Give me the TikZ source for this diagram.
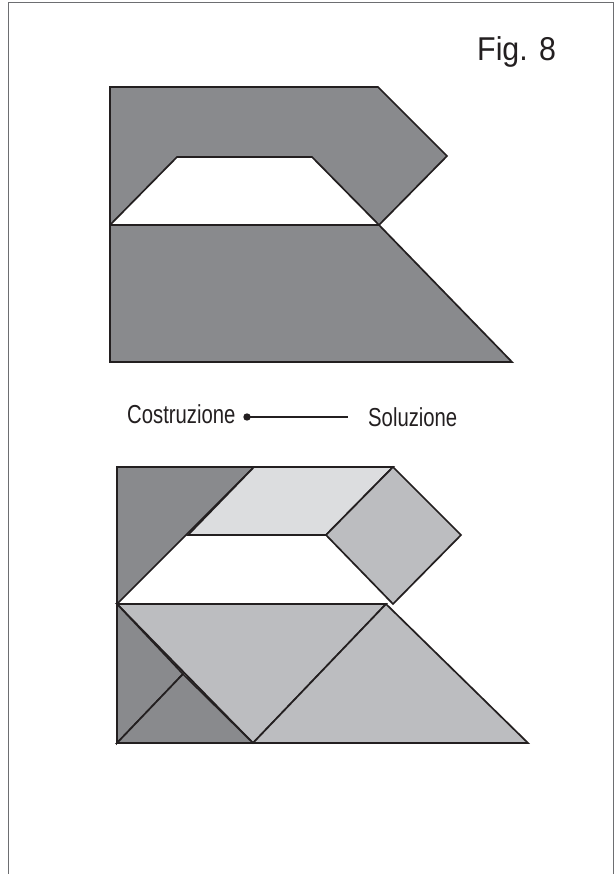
\documentclass[tikz,border=0pt]{standalone}
\usepackage{fontspec}
\setmainfont{Liberation Sans}
\newfontfamily\condfont[FakeStretch=0.92]{Liberation Sans}
\newfontfamily\narrowfont[FakeStretch=0.78]{Liberation Sans}
\definecolor{darkpiece}{HTML}{898A8D}
\definecolor{midpiece}{HTML}{BCBDC0}
\definecolor{lightpiece}{HTML}{DCDDDF}
\definecolor{edge}{HTML}{231F20}
\definecolor{framec}{HTML}{6D6E71}
\tikzset{
  piece/.style={draw=edge, line width=1.7pt, line join=miter},
  lbl/.style={inner sep=0pt, anchor=base west, text=edge},
}
\begin{document}
\begin{tikzpicture}[x=1pt, y=-1pt]
\useasboundingbox (0,0) rectangle (614,874);
% frame (open at the bottom)
\draw[framec, line width=1.5pt] (8.5,874) -- (8.5,2.5) -- (613.5,2.5) -- (613.5,874);
% title
\node[lbl] (fig) at (477,61) {\condfont\fontsize{33}{38}\selectfont Fig. 8};
% ---- upper figure (construction) ----
\coordinate (A1) at (110,87);
\coordinate (A2) at (378,87);
\coordinate (A3) at (447,156);
\coordinate (A4) at (379,225);
\coordinate (A5) at (312,157);
\coordinate (A6) at (177,157);
\coordinate (A7) at (110,225);
\coordinate (A8) at (512,362);
\coordinate (A9) at (110,362);
\filldraw[piece, fill=darkpiece] (A1) -- (A2) -- (A3) -- (A4) -- (A5) -- (A6) -- (A7) -- cycle;
\filldraw[piece, fill=darkpiece] (A7) -- (A4) -- (A8) -- (A9) -- cycle;
% ---- legend ----
\node[lbl] (costr) at (127,423) {\narrowfont\fontsize{26}{31}\selectfont Costruzione};
\node[lbl] (sol) at (368,426) {\narrowfont\fontsize{26}{31}\selectfont Soluzione};
\coordinate (dot) at (247,417);
\coordinate (lineend) at (348,417);
\draw[edge, line width=1.6pt] (dot) -- (lineend);
\fill[edge] (dot) circle (3.7pt);
% ---- lower figure (solution) ----
\coordinate (B1) at (117,467);
\coordinate (B2) at (254,467);
\coordinate (B3) at (393,467);
\coordinate (B4) at (188,535);
\coordinate (B5) at (326,535);
\coordinate (B6) at (461,535);
\coordinate (B7) at (117,604);
\coordinate (B8) at (386,604);
\coordinate (B9) at (393,604);
\coordinate (B10) at (183,674);
\coordinate (B11) at (117,743);
\coordinate (B12) at (253,743);
\coordinate (B13) at (528,743);
\filldraw[piece, fill=darkpiece] (B1) -- (B2) -- (B7) -- cycle;
\filldraw[piece, fill=lightpiece] (B2) -- (B3) -- (B5) -- (B4) -- cycle;
\filldraw[piece, fill=midpiece] (B3) -- (B6) -- (B9) -- (B5) -- cycle;
\filldraw[piece, fill=midpiece] (B7) -- (B8) -- (B12) -- cycle;
\filldraw[piece, fill=midpiece] (B8) -- (B13) -- (B12) -- cycle;
\filldraw[piece, fill=darkpiece] (B7) -- (B10) -- (B11) -- cycle;
\filldraw[piece, fill=darkpiece] (B11) -- (B10) -- (B12) -- cycle;
\end{tikzpicture}
\end{document}
